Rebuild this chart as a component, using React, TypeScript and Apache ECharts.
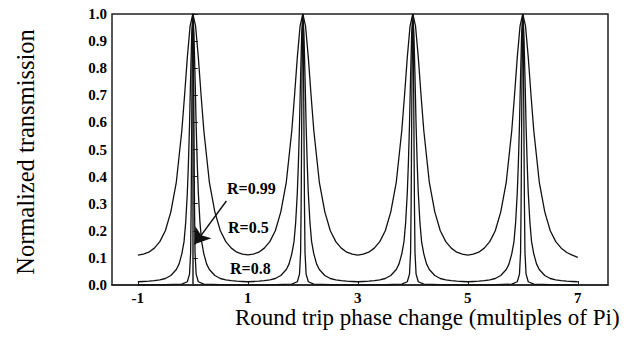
import React, { useEffect, useRef } from "react";
import * as echarts from "echarts";

const xTickValues = [-1, 1, 3, 5, 7];

// R = 0.5 (broad curve)
const r05: number[][] = [
  [-1.0, 0.11], [-0.9, 0.114], [-0.8, 0.121], [-0.7, 0.136], [-0.6, 0.16], [-0.5, 0.2], [-0.4, 0.27], [-0.3, 0.38], [-0.2, 0.57], [-0.15, 0.7], [-0.1, 0.84], [-0.05, 0.955],
  [0, 1.0], [0.05, 0.955], [0.1, 0.84], [0.15, 0.7], [0.2, 0.57], [0.3, 0.38], [0.4, 0.27], [0.5, 0.2], [0.6, 0.16], [0.7, 0.136], [0.8, 0.121], [0.9, 0.114],
  [1.0, 0.111], [1.1, 0.114], [1.2, 0.121], [1.3, 0.136], [1.4, 0.16], [1.5, 0.2], [1.6, 0.27], [1.7, 0.38], [1.8, 0.57], [1.85, 0.7], [1.9, 0.84], [1.95, 0.955],
  [2.0, 1.0], [2.05, 0.955], [2.1, 0.84], [2.15, 0.7], [2.2, 0.57], [2.3, 0.38], [2.4, 0.27], [2.5, 0.2], [2.6, 0.16], [2.7, 0.136], [2.8, 0.121], [2.9, 0.114],
  [3.0, 0.11], [3.1, 0.114], [3.2, 0.121], [3.3, 0.136], [3.4, 0.16], [3.5, 0.2], [3.6, 0.27], [3.7, 0.38], [3.8, 0.57], [3.85, 0.7], [3.9, 0.84], [3.95, 0.955],
  [4.0, 1.0], [4.05, 0.955], [4.1, 0.84], [4.15, 0.7], [4.2, 0.57], [4.3, 0.38], [4.4, 0.27], [4.5, 0.2], [4.6, 0.16], [4.7, 0.136], [4.8, 0.121], [4.9, 0.114],
  [5.0, 0.11], [5.1, 0.114], [5.2, 0.121], [5.3, 0.136], [5.4, 0.16], [5.5, 0.2], [5.6, 0.27], [5.7, 0.38], [5.8, 0.57], [5.85, 0.7], [5.9, 0.84], [5.95, 0.955],
  [6.0, 1.0], [6.05, 0.955], [6.1, 0.84], [6.15, 0.7], [6.2, 0.57], [6.3, 0.38], [6.4, 0.27], [6.5, 0.2], [6.6, 0.16], [6.7, 0.136], [6.8, 0.12], [6.9, 0.11],
  [7.0, 0.102],
];

// R = 0.8 (middle curve)
const r08: number[][] = [
  [-1.0, 0.012], [-0.9, 0.013], [-0.8, 0.014], [-0.7, 0.016], [-0.6, 0.019], [-0.5, 0.024], [-0.4, 0.035], [-0.3, 0.057], [-0.25, 0.078], [-0.2, 0.115], [-0.16, 0.16], [-0.13, 0.23], [-0.1, 0.34], [-0.08, 0.45], [-0.06, 0.59], [-0.04, 0.77], [-0.02, 0.93],
  [0, 1.0], [0.02, 0.93], [0.04, 0.77], [0.06, 0.59], [0.08, 0.45], [0.1, 0.34], [0.13, 0.23], [0.16, 0.16], [0.2, 0.115], [0.25, 0.078], [0.3, 0.057], [0.4, 0.035], [0.5, 0.024], [0.6, 0.019], [0.7, 0.016], [0.8, 0.014], [0.9, 0.013],
  [1.0, 0.012], [1.1, 0.013], [1.2, 0.014], [1.3, 0.016], [1.4, 0.019], [1.5, 0.024], [1.6, 0.035], [1.7, 0.057], [1.75, 0.078], [1.8, 0.115], [1.84, 0.16], [1.87, 0.23], [1.9, 0.34], [1.92, 0.45], [1.94, 0.59], [1.96, 0.77], [1.98, 0.93],
  [2.0, 1.0], [2.02, 0.93], [2.04, 0.77], [2.06, 0.59], [2.08, 0.45], [2.1, 0.34], [2.13, 0.23], [2.16, 0.16], [2.2, 0.115], [2.25, 0.078], [2.3, 0.057], [2.4, 0.035], [2.5, 0.024], [2.6, 0.019], [2.7, 0.016], [2.8, 0.014], [2.9, 0.013],
  [3.0, 0.012], [3.1, 0.013], [3.2, 0.014], [3.3, 0.016], [3.4, 0.019], [3.5, 0.024], [3.6, 0.035], [3.7, 0.057], [3.75, 0.078], [3.8, 0.115], [3.84, 0.16], [3.87, 0.23], [3.9, 0.34], [3.92, 0.45], [3.94, 0.59], [3.96, 0.77], [3.98, 0.93],
  [4.0, 1.0], [4.02, 0.93], [4.04, 0.77], [4.06, 0.59], [4.08, 0.45], [4.1, 0.34], [4.13, 0.23], [4.16, 0.16], [4.2, 0.115], [4.25, 0.078], [4.3, 0.057], [4.4, 0.035], [4.5, 0.024], [4.6, 0.019], [4.7, 0.016], [4.8, 0.014], [4.9, 0.013],
  [5.0, 0.012], [5.1, 0.013], [5.2, 0.014], [5.3, 0.016], [5.4, 0.019], [5.5, 0.024], [5.6, 0.035], [5.7, 0.057], [5.75, 0.078], [5.8, 0.115], [5.84, 0.16], [5.87, 0.23], [5.9, 0.34], [5.92, 0.45], [5.94, 0.59], [5.96, 0.77], [5.98, 0.93],
  [6.0, 1.0], [6.02, 0.93], [6.04, 0.77], [6.06, 0.59], [6.08, 0.45], [6.1, 0.34], [6.13, 0.23], [6.16, 0.16], [6.2, 0.115], [6.25, 0.078], [6.3, 0.057], [6.4, 0.035], [6.5, 0.024], [6.6, 0.019], [6.7, 0.016], [6.8, 0.014], [6.9, 0.013],
  [7.0, 0.012],
];

// R = 0.99 (narrow spikes)
const r099: number[][] = [
  [-1.0, 0], [-0.5, 0.001], [-0.2, 0.003], [-0.1, 0.012], [-0.06, 0.04], [-0.04, 0.12], [-0.03, 0.3], [-0.02, 0.6], [-0.01, 0.9],
  [0, 1.0], [0.01, 0.9], [0.02, 0.6], [0.03, 0.3], [0.04, 0.12], [0.06, 0.04], [0.1, 0.012], [0.2, 0.003], [0.5, 0.001],
  [1.0, 0], [1.5, 0.001], [1.8, 0.003], [1.9, 0.012], [1.94, 0.04], [1.96, 0.12], [1.97, 0.3], [1.98, 0.6], [1.99, 0.9],
  [2.0, 1.0], [2.01, 0.9], [2.02, 0.6], [2.03, 0.3], [2.04, 0.12], [2.06, 0.04], [2.1, 0.012], [2.2, 0.003], [2.5, 0.001],
  [3.0, 0], [3.5, 0.001], [3.8, 0.003], [3.9, 0.012], [3.94, 0.04], [3.96, 0.12], [3.97, 0.3], [3.98, 0.6], [3.99, 0.9],
  [4.0, 1.0], [4.01, 0.9], [4.02, 0.6], [4.03, 0.3], [4.04, 0.12], [4.06, 0.04], [4.1, 0.012], [4.2, 0.003], [4.5, 0.001],
  [5.0, 0], [5.5, 0.001], [5.8, 0.003], [5.9, 0.012], [5.94, 0.04], [5.96, 0.12], [5.97, 0.3], [5.98, 0.6], [5.99, 0.9],
  [6.0, 1.0], [6.01, 0.9], [6.02, 0.6], [6.03, 0.3], [6.04, 0.12], [6.06, 0.04], [6.1, 0.012], [6.2, 0.003], [6.5, 0.001],
  [7.0, 0],
];

const arrowFrom = [0.61, 0.31];
const arrowTo = [0.03, 0.15];

const curveLabels = ["R=0.99", "R=0.5", "R=0.8"];
const xTitle = "Round trip phase change (multiples of Pi)";
const yTitle = "Normalized transmission";

const SERIF = "'Liberation Serif', 'Times New Roman', serif";

export default function App() {
  const ref = useRef<HTMLDivElement>(null);
  useEffect(() => {
    if (!ref.current) return;
    document.body.style.margin = "0";
    const chart = echarts.init(ref.current, undefined, { renderer: "svg" });
    const lineStyle = { color: "#111", width: 1.3 };
    const tickLabel = { color: "#000", fontFamily: SERIF, fontWeight: "bold" as const, fontSize: 15 };
    chart.setOption({
      animation: false,
      backgroundColor: "#fff",
      grid: {
        left: 112,
        right: 30,
        top: 14,
        bottom: 52,
        show: true,
        borderColor: "#222",
        borderWidth: 1.5,
        backgroundColor: "transparent",
      },
      xAxis: {
        type: "value",
        min: -1.47,
        max: 7.55,
        axisLine: { show: true, lineStyle: { color: "#222", width: 1.5 } },
        axisTick: { show: true, inside: true, length: 4, customValues: xTickValues, lineStyle: { color: "#222" } },
        axisLabel: { ...tickLabel, margin: 5, customValues: xTickValues, formatter: (v: number) => String(v) },
        splitLine: { show: false },
      },
      yAxis: {
        type: "value",
        min: 0,
        max: 1,
        interval: 0.1,
        axisLine: { show: true, lineStyle: { color: "#222", width: 1.5 } },
        axisTick: { show: true, inside: true, length: 5, lineStyle: { color: "#222" } },
        axisLabel: { ...tickLabel, margin: 5, formatter: (v: number) => v.toFixed(1) },
        splitLine: { show: false },
      },
      series: [
        {
          name: curveLabels[1],
          type: "line",
          data: r05,
          showSymbol: false,
          symbol: "none",
          lineStyle,
        },
        {
          name: curveLabels[2],
          type: "line",
          data: r08,
          showSymbol: false,
          symbol: "none",
          lineStyle,
        },
        {
          name: curveLabels[0],
          type: "line",
          data: r099,
          showSymbol: false,
          symbol: "none",
          lineStyle,
          markLine: {
            silent: true,
            symbol: ["none", "arrow"],
            symbolSize: 15,
            label: { show: false },
            lineStyle: { color: "#111", width: 1.4, type: "solid" },
            data: [[{ coord: arrowFrom }, { coord: arrowTo }]],
          },
        },
      ],
      graphic: [
        { type: "text", left: 227, top: 180, style: { text: curveLabels[0], font: `bold 16px ${SERIF}`, fill: "#000" } },
        { type: "text", left: 228, top: 219, style: { text: curveLabels[1], font: `bold 16px ${SERIF}`, fill: "#000" } },
        { type: "text", left: 230, top: 260, style: { text: curveLabels[2], font: `bold 16px ${SERIF}`, fill: "#000" } },
        {
          type: "text",
          left: 235,
          top: 306,
          style: { text: xTitle, font: `23px ${SERIF}`, fill: "#000" },
        },
        {
          type: "text",
          x: 25,
          y: 152,
          rotation: Math.PI / 2,
          style: { text: yTitle, font: `24.5px ${SERIF}`, fill: "#000", align: "center", verticalAlign: "middle" },
        },
      ],
    });
    return () => chart.dispose();
  }, []);
  return <div ref={ref} style={{ position: "fixed", left: 0, top: 0, width: 638, height: 337 }} />;
}
